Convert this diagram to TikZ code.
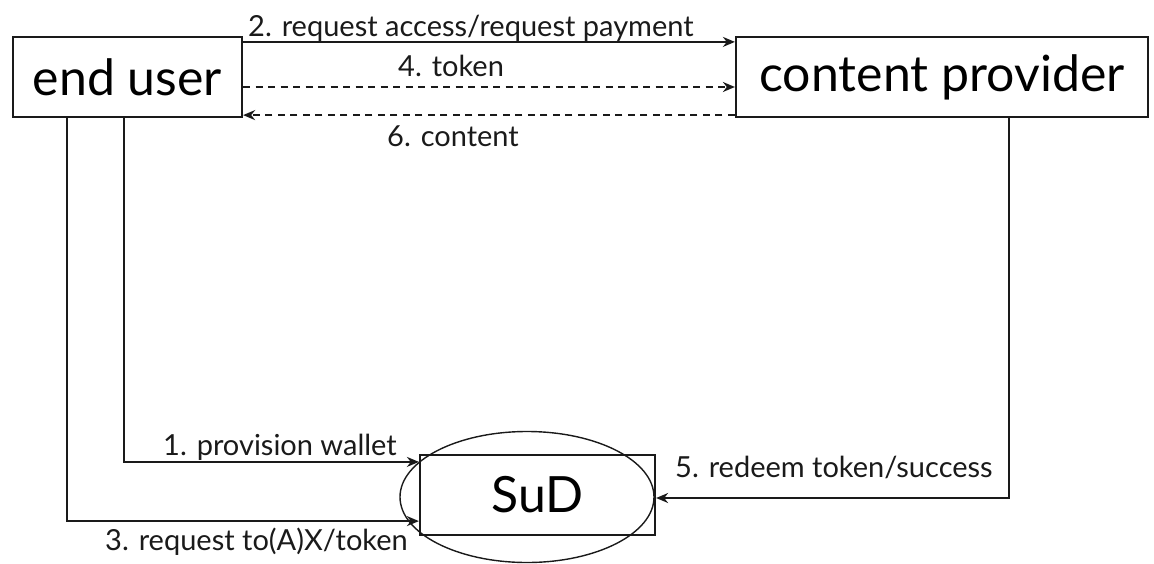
\documentclass[tikz,border=0pt]{standalone}
\usepackage{fontspec}
\setmainfont{Lato}
\usetikzlibrary{shapes.geometric,arrows.meta}

\definecolor{ink}{HTML}{1A1A1A}

\tikzset{
  party/.style={draw=ink, line width=2.2pt, rectangle, minimum height=80pt,
                inner sep=0pt, font=\fontsize{50}{54}\selectfont},
  msg/.style={draw=ink, line width=1.8pt, -{Stealth[length=12pt,width=10pt]}},
  msgdash/.style={msg, dash pattern=on 7pt off 5.5pt},
  lbl/.style={anchor=base west, inner sep=0pt, text=ink,
              font=\fontsize{29}{33}\selectfont},
}

\begin{document}
\begin{tikzpicture}[x=1pt, y=-1pt]
  \useasboundingbox (0,0) rectangle (1154,563);

  % parties
  \node[party, minimum width=229pt] (eu) at (127.5,77) {end user};
  \node[party, minimum width=412pt] (cp) at (942,77) {content provider};

  % system under design: box with an ellipse round it
  \node[party, minimum width=235pt] (sud) at (537.5,495) {SuD};
  \node[draw=ink, line width=1.4pt, ellipse, minimum width=254pt,
        minimum height=131pt, inner sep=0pt] (ring) at (527,497) {};

  % messages between end user and content provider
  \draw[msg] ([yshift=-6pt]eu.north east) -- ([yshift=-6pt]cp.north west);
  \draw[msgdash] ([yshift=-10pt]eu.east) -- ([yshift=-10pt]cp.east -| cp.west);
  \draw[msgdash] ([yshift=3pt]cp.south west) -- ([yshift=3pt]eu.south east);

  % messages to the SuD
  \draw[msg] ([xshift=112pt]eu.south west) |- ([yshift=-8pt]sud.north west);
  \draw[msg] ([xshift=55pt]eu.south west) |- ([yshift=15pt]sud.south west);
  \draw[msg] ([xshift=-140pt]cp.south east) |- ([yshift=-3pt]sud.east);

  % labels
  \node[lbl] (l2) at (248,36) {2. request access/request payment};
  \node[lbl] (l4) at (398,76) {4. token};
  \node[lbl] (l6) at (387,146) {6. content};
  \node[lbl] (l1) at (163,455) {1. provision wallet};
  \node[lbl] (l3) at (105,550) {3. request to(A)X/token};
  \node[lbl] (l5) at (675,477) {5. redeem token/success};
\end{tikzpicture}
\end{document}
